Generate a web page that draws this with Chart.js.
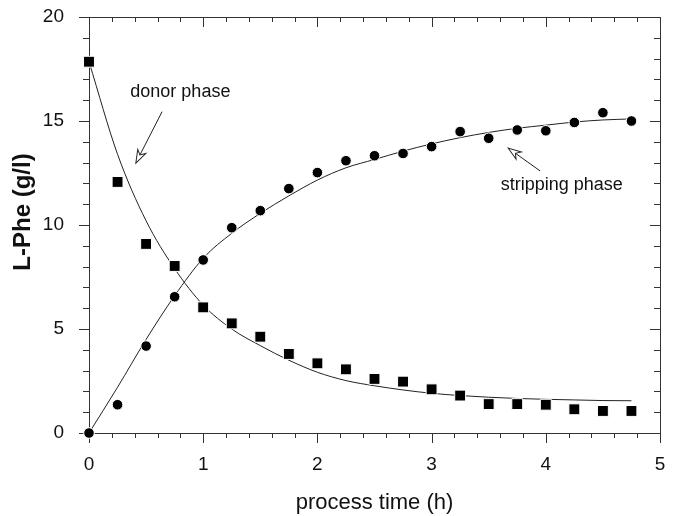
<!DOCTYPE html>
<html>
<head>
<meta charset="utf-8">
<script src="https://cdn.jsdelivr.net/npm/chart.js@4.4.1/dist/chart.umd.min.js"></script>
<style>
    html, body { margin: 0; padding: 0; background: #fff; }
    #wrap { width: 676px; height: 516px; position: relative; }
</style>
</head>
<body>
<div id="wrap"><canvas id="graph"></canvas></div>
<script>

// process time (h)
const times = [0, 0.25, 0.5, 0.75, 1, 1.25, 1.5, 1.75, 2, 2.25, 2.5, 2.75, 3, 3.25, 3.5, 3.75, 4, 4.25, 4.5, 4.75];

// measured L-Phe (g/l)
const donorMeasured = [17.85, 12.07, 9.09, 8.03, 6.04, 5.27, 4.63, 3.80, 3.35, 3.06, 2.60, 2.47, 2.10, 1.80, 1.39, 1.39, 1.36, 1.14, 1.06, 1.06];
const strippingMeasured = [0, 1.36, 4.18, 6.55, 8.32, 9.87, 10.69, 11.75, 12.52, 13.09, 13.33, 13.44, 13.77, 14.49, 14.17, 14.57, 14.53, 14.93, 15.40, 15.00];

// model curves
const donorFit = [17.85, 13.4, 10.2, 7.9, 6.15, 5.0, 4.2, 3.5, 2.92, 2.52, 2.27, 2.07, 1.91, 1.8, 1.72, 1.66, 1.62, 1.59, 1.56, 1.55];
const strippingFit = [0, 2.2, 4.5, 6.6, 8.4, 9.6, 10.56, 11.4, 12.16, 12.75, 13.15, 13.55, 13.9, 14.2, 14.45, 14.65, 14.8, 14.95, 15.05, 15.1];

// axis ticks
const xMajorTicks = [0, 1, 2, 3, 4, 5];
const yMajorTicks = [0, 5, 10, 15, 20];
const xMinorTicks = [0.2, 0.4, 0.6, 0.8, 1.2, 1.4, 1.6, 1.8, 2.2, 2.4, 2.6, 2.8, 3.2, 3.4, 3.6, 3.8, 4.2, 4.4, 4.6, 4.8];
const yMinorTicks = [1, 2, 3, 4, 6, 7, 8, 9, 11, 12, 13, 14, 16, 17, 18, 19];

const yTitle = 'L-Phe (g/l)';
const xTitle = 'process time (h)';

const FONT = "'Liberation Sans', Arial, sans-serif";
const INK = "#111";

function toPoints(xs, ys) {
    var pts = [];
    for (var i = 0; i < xs.length; i++) {
        pts.push({x: xs[i], y: ys[i]});
    }
    return pts;
}

// frame + minor/major ticks like the original plot
const frameTicks = {
    id: 'frameTicks',
    beforeDatasetsDraw: function (chart) {
        const ctx = chart.ctx;
        const a = chart.chartArea;
        const xs = chart.scales.x;
        const ys = chart.scales.y;
        ctx.save();
        ctx.strokeStyle = "#333";
        ctx.lineWidth = 1;
        ctx.beginPath();
        ctx.rect(Math.round(a.left) + 0.5, Math.round(a.top) + 0.5, Math.round(a.right - a.left), Math.round(a.bottom - a.top));
        ctx.stroke();

        function xtick(v, len) {
            const px = Math.round(xs.getPixelForValue(v)) + 0.5;
            ctx.moveTo(px, a.bottom);
            ctx.lineTo(px, a.bottom + len);
            ctx.moveTo(px, a.top);
            ctx.lineTo(px, a.top + len);
        }
        function ytick(v, len) {
            const py = Math.round(ys.getPixelForValue(v)) + 0.5;
            ctx.moveTo(a.left, py);
            ctx.lineTo(a.left - len, py);
            ctx.moveTo(a.right, py);
            ctx.lineTo(a.right - len, py);
        }
        ctx.beginPath();
        xMajorTicks.forEach(function (v) { xtick(v, 10); });
        xMinorTicks.forEach(function (v) { xtick(v, 5); });
        yMajorTicks.forEach(function (v) { ytick(v, 10); });
        yMinorTicks.forEach(function (v) { ytick(v, 6); });
        ctx.stroke();

        // y title sits a bit above the middle of the axis in the original
        ctx.translate(23, (a.top + a.bottom) / 2 - 13);
        ctx.rotate(-Math.PI / 2);
        ctx.fillStyle = INK;
        ctx.font = "bold 24px " + FONT;
        ctx.textAlign = 'center';
        ctx.textBaseline = 'middle';
        ctx.fillText(yTitle, 0, 0);
        ctx.restore();
    }
};

// "donor phase" / "stripping phase" labels with open arrows (data coordinates)
const notes = [
    {text: 'donor phase', tx: 0.80, ty: 16.4, from: [0.64, 15.45], to: [0.41, 12.98]},
    {text: 'stripping phase', tx: 4.14, ty: 11.9, from: [3.95, 12.6], to: [3.67, 13.7]}
];

const phaseNotes = {
    id: 'phaseNotes',
    afterDatasetsDraw: function (chart) {
        const ctx = chart.ctx;
        const xs = chart.scales.x;
        const ys = chart.scales.y;
        ctx.save();
        ctx.font = "18px " + FONT;
        ctx.textAlign = 'center';
        ctx.textBaseline = 'middle';
        notes.forEach(function (n) {
            ctx.fillStyle = INK;
            ctx.fillText(n.text, xs.getPixelForValue(n.tx), ys.getPixelForValue(n.ty));

            const x0 = xs.getPixelForValue(n.from[0]), y0 = ys.getPixelForValue(n.from[1]);
            const x1 = xs.getPixelForValue(n.to[0]), y1 = ys.getPixelForValue(n.to[1]);
            const ang = Math.atan2(y1 - y0, x1 - x0);
            const L = 13, W = 4.5;
            ctx.strokeStyle = "#222";
            ctx.lineWidth = 1;
            ctx.beginPath();
            ctx.moveTo(x0, y0);
            ctx.lineTo(x1 - Math.cos(ang) * 8, y1 - Math.sin(ang) * 8);
            ctx.stroke();
            // hollow head
            ctx.translate(x1, y1);
            ctx.rotate(ang);
            ctx.beginPath();
            ctx.moveTo(0, 0);
            ctx.lineTo(-L, -W);
            ctx.lineTo(-L + 4, 0);
            ctx.lineTo(-L, W);
            ctx.closePath();
            ctx.fillStyle = "#fff";
            ctx.fill();
            ctx.stroke();
            ctx.setTransform(1, 0, 0, 1, 0, 0);
        });
        ctx.restore();
    }
};

window.onload = function () {
    const cell = document.getElementById("graph");

    new Chart(cell, {
        type: 'scatter',
        data: {
            datasets: [{
                    label: 'donor phase',
                    data: toPoints(times, donorMeasured),
                    pointStyle: 'rect',
                    pointRadius: 7.7,
                    pointBackgroundColor: "#000",
                    pointBorderColor: "#fff",
                    pointBorderWidth: 1,
                    showLine: false,
                    clip: false
                }, {
                    label: 'stripping phase',
                    data: toPoints(times, strippingMeasured),
                    pointStyle: 'circle',
                    pointRadius: 5.3,
                    pointBackgroundColor: "#000",
                    pointBorderColor: "#fff",
                    pointBorderWidth: 1,
                    showLine: false,
                    clip: false
                }, {
                    label: 'donor fit',
                    data: toPoints(times, donorFit),
                    showLine: true,
                    pointRadius: 0,
                    borderColor: "#222",
                    borderWidth: 1,
                    cubicInterpolationMode: 'monotone',
                    fill: false
                }, {
                    label: 'stripping fit',
                    data: toPoints(times, strippingFit),
                    showLine: true,
                    pointRadius: 0,
                    borderColor: "#222",
                    borderWidth: 1,
                    cubicInterpolationMode: 'monotone',
                    fill: false
                }]
        },
        options: {
            responsive: true,
            maintainAspectRatio: false,
            animation: false,
            layout: {
                padding: {top: 17, right: 16, left: 0, bottom: 0}
            },
            scales: {
                x: {
                    type: 'linear',
                    min: 0,
                    max: 5,
                    grid: {display: false},
                    border: {display: false},
                    ticks: {
                        stepSize: 1,
                        padding: 12,
                        color: INK,
                        font: {family: FONT, size: 19},
                        maxRotation: 0
                    },
                    title: {
                        display: true,
                        text: xTitle,
                        color: INK,
                        font: {family: FONT, size: 22},
                        padding: {top: 0, bottom: 0}
                    },
                    afterFit: function (scale) {
                        scale.height = 83;
                        scale.paddingLeft = 0;
                        scale.paddingRight = 0;
                    }
                },
                y: {
                    min: 0,
                    max: 20,
                    grid: {display: false},
                    border: {display: false},
                    ticks: {
                        stepSize: 5,
                        padding: 17,
                        color: INK,
                        font: {family: FONT, size: 19}
                    },
                    afterFit: function (scale) {
                        scale.width = 89;
                        scale.paddingTop = 0;
                        scale.paddingBottom = 0;
                    }
                }
            },
            plugins: {
                legend: {display: false},
                tooltip: {enabled: false}
            }
        },
        plugins: [frameTicks, phaseNotes]
    });
};
</script>
</body>
</html>
